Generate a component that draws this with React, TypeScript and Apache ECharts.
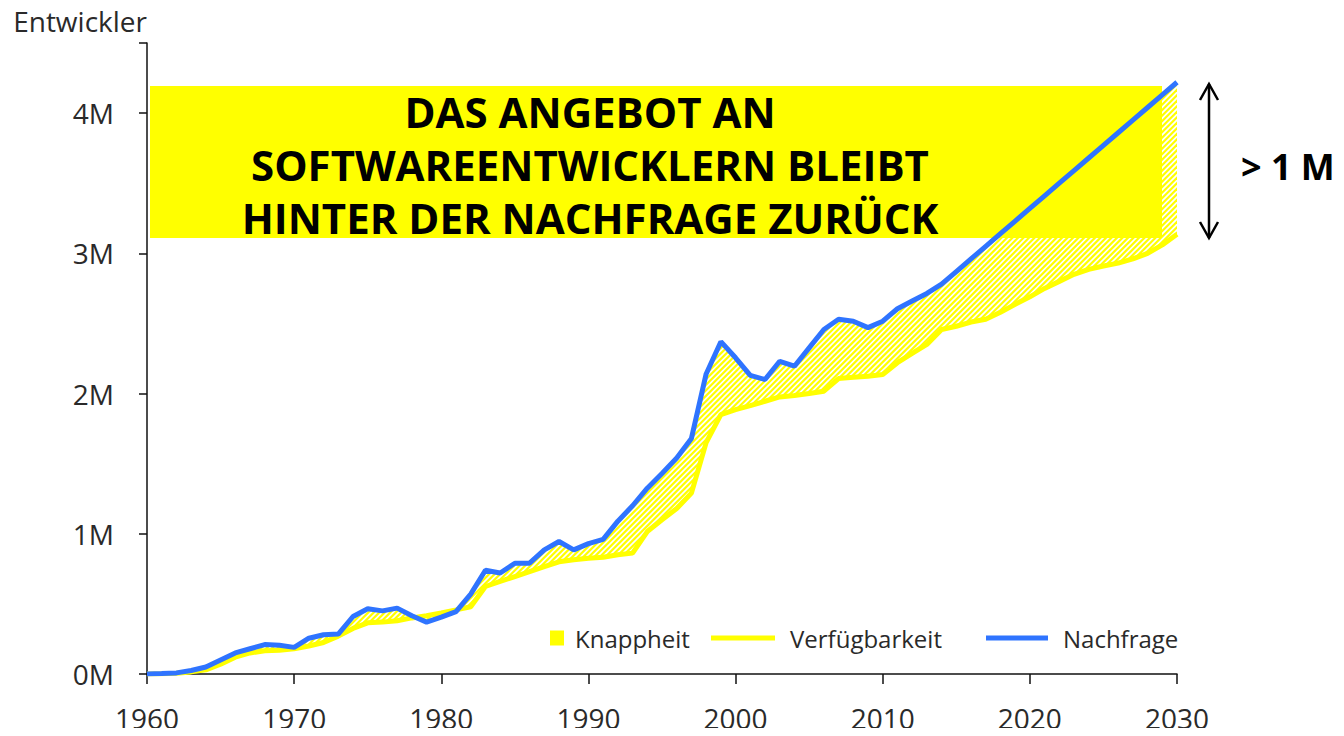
import React, { useEffect, useRef } from "react";
import * as echarts from "echarts";

const years: number[] = [];
for (let y = 1960; y <= 2030; y++) years.push(y);

// Nachfrage (demand), millions of developers
const demand = [
  0, 0.003, 0.008, 0.025, 0.05, 0.1, 0.15, 0.18, 0.21, 0.205,
  0.19, 0.255, 0.28, 0.285, 0.41, 0.465, 0.45, 0.47, 0.415, 0.37,
  0.405, 0.445, 0.57, 0.74, 0.72, 0.79, 0.79, 0.885, 0.945, 0.885,
  0.93, 0.96, 1.09, 1.2, 1.325, 1.43, 1.54, 1.68, 2.14, 2.37,
  2.255, 2.13, 2.1, 2.23, 2.195, 2.326, 2.457, 2.53, 2.516, 2.47,
  2.516, 2.605, 2.66, 2.714, 2.78, 2.87, 2.96, 3.05, 3.14, 3.23,
  3.32, 3.41, 3.5, 3.59, 3.68, 3.77, 3.86, 3.95, 4.04, 4.13,
  4.22,
];

// Verfügbarkeit (supply), millions of developers
const supply = [
  0, 0.002, 0.005, 0.015, 0.03, 0.07, 0.12, 0.15, 0.166, 0.17,
  0.18, 0.2, 0.225, 0.27, 0.325, 0.365, 0.37, 0.38, 0.4, 0.415,
  0.435, 0.457, 0.48, 0.624, 0.66, 0.695, 0.73, 0.766, 0.8, 0.815,
  0.826, 0.833, 0.85, 0.862, 1.016, 1.1, 1.18, 1.29, 1.65, 1.85,
  1.886, 1.914, 1.945, 1.976, 1.986, 2.0, 2.017, 2.107, 2.117, 2.124,
  2.136, 2.22, 2.286, 2.35, 2.457, 2.48, 2.51, 2.53, 2.58, 2.636,
  2.69, 2.75, 2.8, 2.85, 2.886, 2.91, 2.93, 2.96, 3.0, 3.06,
  3.136,
];

const yTicks = ["0M", "1M", "2M", "3M", "4M"];
const seriesNames = ["Knappheit", "Verfügbarkeit", "Nachfrage"];
const headline = ["DAS ANGEBOT AN", "SOFTWAREENTWICKLERN BLEIBT", "HINTER DER NACHFRAGE ZURÜCK"];
const gapLabel = "> 1 M";

const YELLOW = "#ffff00";
const BLUE = "#2f74ff";
const FONT = "'Open Sans', 'Noto Sans', sans-serif";
const TEXT = "#2a2a2a";

export default function App() {
  const ref = useRef<HTMLDivElement>(null);

  useEffect(() => {
    if (!ref.current) return;
    const chart = echarts.init(ref.current, null, { renderer: "svg" });

    const supplyData = years.map((y, i) => [y, supply[i]]);
    const demandData = years.map((y, i) => [y, demand[i]]);

    const legendText = { fontFamily: FONT, fontSize: 24, color: TEXT };

    // hatched band between demand and supply, drawn through the axes' scales
    const renderGap = (params: any, api: any) => {
      const top = years.map((y, i) => api.coord([y, demand[i]]));
      const bottom = years.map((y, i) => api.coord([y, supply[i]])).reverse();
      const pts = top.concat(bottom);
      let minX = Infinity, maxX = -Infinity, minY = Infinity, maxY = -Infinity;
      pts.forEach((p: number[]) => {
        minX = Math.min(minX, p[0]);
        maxX = Math.max(maxX, p[0]);
        minY = Math.min(minY, p[1]);
        maxY = Math.max(maxY, p[1]);
      });
      const h = maxY - minY + 4;
      const step = 5.5;
      const lines: any[] = [];
      for (let x = minX - h - step; x <= maxX + step; x += step) {
        lines.push({
          type: "line",
          shape: { x1: x, y1: maxY + 2, x2: x + h, y2: maxY + 2 - h },
          style: { stroke: YELLOW, lineWidth: 2.2 },
        });
      }
      return {
        type: "group",
        clipPath: { type: "polygon", shape: { points: pts } },
        children: lines,
      };
    };

    chart.setOption({
      animation: false,
      grid: { left: 147, right: 167, top: 43, bottom: 62 },
      xAxis: {
        type: "value",
        min: 1960,
        max: 2030,
        interval: 10,
        splitLine: { show: false },
        axisLine: { lineStyle: { color: "#111", width: 1.5 } },
        axisTick: { length: 10, lineStyle: { color: "#111", width: 1.5 } },
        axisLabel: {
          fontFamily: FONT,
          fontSize: 28,
          color: TEXT,
          margin: 30,
          formatter: (v: number) => String(v),
        },
      },
      yAxis: {
        type: "value",
        min: 0,
        max: 4.5,
        interval: 1,
        name: "Entwickler",
        nameLocation: "end",
        nameGap: 8,
        nameTextStyle: { fontFamily: FONT, fontSize: 28, color: TEXT, align: "right" },
        splitLine: { show: false },
        axisLine: { show: true, lineStyle: { color: "#111", width: 1.5 } },
        axisTick: { show: true, length: 8, lineStyle: { color: "#111", width: 1.5 } },
        axisLabel: {
          fontFamily: FONT,
          fontSize: 28,
          color: TEXT,
          margin: 33,
          formatter: (v: number) => (Number.isInteger(v) ? yTicks[v] : ""),
        },
      },
      legend: [
        {
          left: 545,
          top: 621,
          itemWidth: 14,
          itemHeight: 15,
          icon: "rect",
          textStyle: { ...legendText, padding: [0, 0, 0, 6] },
          data: [{ name: seriesNames[0], itemStyle: { color: YELLOW } }],
        },
        {
          left: 706,
          top: 621,
          itemWidth: 64,
          itemHeight: 5,
          icon: "rect",
          textStyle: { ...legendText, padding: [0, 0, 0, 10] },
          data: [{ name: seriesNames[1] }],
        },
        {
          left: 981,
          top: 621,
          itemWidth: 62,
          itemHeight: 5,
          icon: "rect",
          textStyle: { ...legendText, padding: [0, 0, 0, 10] },
          data: [{ name: seriesNames[2] }],
        },
      ],
      series: [
        {
          name: seriesNames[0],
          type: "custom",
          data: [[years[0], supply[0]]],
          renderItem: renderGap,
          z: 2,
          itemStyle: { color: YELLOW },
          silent: true,
        },
        {
          name: seriesNames[1],
          type: "line",
          data: supplyData,
          symbol: "none",
          z: 3,
          itemStyle: { color: YELLOW },
          lineStyle: { color: YELLOW, width: 5 },
        },
        {
          name: seriesNames[2],
          type: "line",
          data: demandData,
          symbol: "none",
          z: 4,
          itemStyle: { color: BLUE },
          lineStyle: { color: BLUE, width: 5 },
        },
      ],
      graphic: [
        {
          type: "rect",
          z: 0,
          shape: { x: 150, y: 86, width: 1012, height: 152 },
          style: { fill: YELLOW },
        },
        {
          type: "text",
          z: 1,
          x: 590,
          y: 164,
          style: {
            text: headline.join("\n"),
            fontFamily: FONT,
            fontWeight: "bold",
            fontSize: 42,
            lineHeight: 53,
            fill: "#000",
            align: "center",
            verticalAlign: "middle",
          },
        },
        {
          type: "line",
          shape: { x1: 1209, y1: 84, x2: 1209, y2: 238 },
          style: { stroke: "#000", lineWidth: 2.5 },
        },
        {
          type: "polyline",
          shape: { points: [[1200, 100], [1209, 84], [1218, 100]] },
          style: { stroke: "#000", lineWidth: 2.5, fill: null },
        },
        {
          type: "polyline",
          shape: { points: [[1200, 222], [1209, 238], [1218, 222]] },
          style: { stroke: "#000", lineWidth: 2.5, fill: null },
        },
        {
          type: "text",
          x: 1241,
          y: 166,
          style: {
            text: gapLabel,
            fontFamily: FONT,
            fontWeight: "bold",
            fontSize: 36,
            fill: "#000",
            align: "left",
            verticalAlign: "middle",
          },
        },
      ],
    });

    return () => chart.dispose();
  }, []);

  return <div ref={ref} style={{ width: 1344, height: 736, margin: -8 }} />;
}
